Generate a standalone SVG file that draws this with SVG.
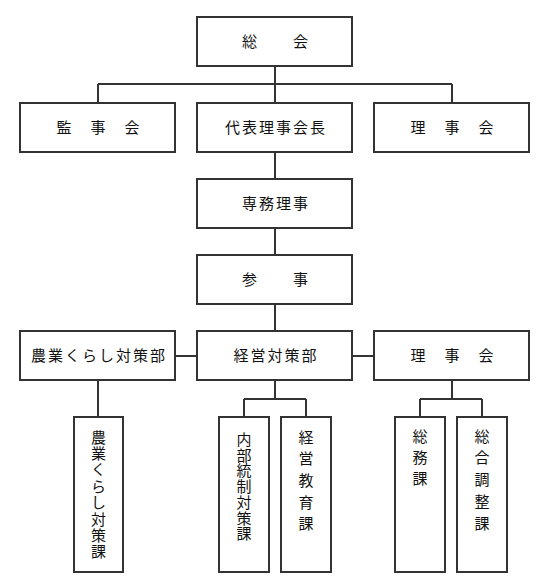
<svg xmlns="http://www.w3.org/2000/svg" width="550" height="588" viewBox="0 0 550 588">
<style>
.box{fill:#fff;stroke:#333;stroke-width:2}
.ln{fill:none;stroke:#333;stroke-width:2}
.t{font-family:"Liberation Serif","Noto Sans CJK JP",serif;font-size:15px;fill:#111;text-anchor:middle;dominant-baseline:central;letter-spacing:2px}
.v{font-family:"Liberation Serif","Noto Sans CJK JP",serif;font-size:15px;fill:#111;text-anchor:middle;dominant-baseline:central}
</style>
<rect width="550" height="588" fill="#fff"/>
<g id="connectors">
<path class="ln" d="M275 67V103M98 84H452M98 84V103M452 84V103"/>
<path class="ln" d="M275 152V179M275 228V255M275 304V331"/>
<path class="ln" d="M175 356H197M352 356H374"/>
<path class="ln" d="M98 380V417"/>
<path class="ln" d="M275 380V399M244 399H306M244 399V417M306 399V417"/>
<path class="ln" d="M452 380V399M420 399H482M420 399V417M482 399V417"/>
</g>
<g id="soukai"><rect class="box" x="197" y="17" width="155" height="49"/><text class="t" x="276" y="41.5">総　　会</text></g>
<g id="kanjikai"><rect class="box" x="20" y="103" width="155" height="49"/><text class="t" x="99" y="127.5">監　事　会</text></g>
<g id="daihyo"><rect class="box" x="197" y="103" width="155" height="49"/><text class="t" x="276" y="127.5">代表理事会長</text></g>
<g id="rijikai1"><rect class="box" x="374" y="103" width="155" height="49"/><text class="t" x="453" y="127.5">理　事　会</text></g>
<g id="senmu"><rect class="box" x="197" y="179" width="155" height="49"/><text class="t" x="276" y="203.5">専務理事</text></g>
<g id="sanji"><rect class="box" x="197" y="255" width="155" height="49"/><text class="t" x="276" y="279.5">参　　事</text></g>
<g id="nougyoubu"><rect class="box" x="20" y="331" width="155" height="49"/><text class="t" x="99" y="355.5">農業くらし対策部</text></g>
<g id="keieibu"><rect class="box" x="197" y="331" width="155" height="49"/><text class="t" x="276" y="355.5">経営対策部</text></g>
<g id="rijikai2"><rect class="box" x="374" y="331" width="155" height="49"/><text class="t" x="453" y="355.5">理　事　会</text></g>
<g id="nougyouka"><rect class="box" x="74" y="417" width="49" height="155"/>
<text class="v"><tspan x="98.5" y="437.5">農</tspan><tspan x="98.5" y="453.9">業</tspan><tspan x="98.5" y="470.3">く</tspan><tspan x="98.5" y="486.7">ら</tspan><tspan x="98.5" y="503.1">し</tspan><tspan x="98.5" y="519.5">対</tspan><tspan x="98.5" y="535.9">策</tspan><tspan x="98.5" y="552.3">課</tspan></text></g>
<g id="naibuka"><rect class="box" x="219" y="417" width="50" height="155"/>
<text class="v"><tspan x="244" y="440">内</tspan><tspan x="244" y="455.7">部</tspan><tspan x="244" y="471.4">統</tspan><tspan x="244" y="487.1">制</tspan><tspan x="244" y="502.8">対</tspan><tspan x="244" y="518.5">策</tspan><tspan x="244" y="534.2">課</tspan></text></g>
<g id="keieika"><rect class="box" x="281" y="417" width="50" height="155"/>
<text class="v"><tspan x="306" y="437.5">経</tspan><tspan x="306" y="459.2">営</tspan><tspan x="306" y="480.9">教</tspan><tspan x="306" y="502.6">育</tspan><tspan x="306" y="524.3">課</tspan></text></g>
<g id="soumuka"><rect class="box" x="395" y="417" width="50" height="155"/>
<text class="v"><tspan x="420" y="436.5">総</tspan><tspan x="420" y="457.5">務</tspan><tspan x="420" y="478.5">課</tspan></text></g>
<g id="sougouka"><rect class="box" x="457" y="417" width="50" height="155"/>
<text class="v"><tspan x="482" y="436.5">総</tspan><tspan x="482" y="458.4">合</tspan><tspan x="482" y="480.3">調</tspan><tspan x="482" y="502.2">整</tspan><tspan x="482" y="524.1">課</tspan></text></g>
</svg>
